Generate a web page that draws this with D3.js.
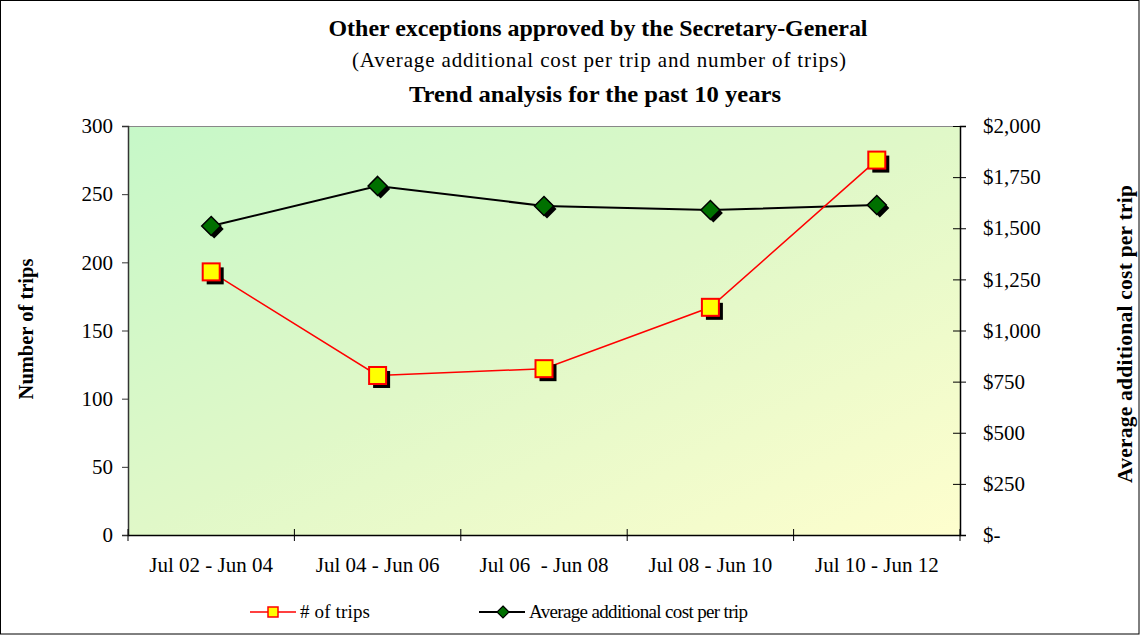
<!DOCTYPE html>
<html><head><meta charset="utf-8">
<script src="https://cdn.jsdelivr.net/npm/d3@7"></script>
<style>body{margin:0;background:#fff}svg{display:block}text{font-family:"Liberation Serif","Times New Roman",serif}</style>
</head><body><svg id="c" width="1140" height="635"></svg>
<script>
const categories = ["Jul 02 - Jun 04","Jul 04 - Jun 06","Jul 06  - Jun 08","Jul 08 - Jun 10","Jul 10 - Jun 12"];
const trips = [193, 117, 122, 167, 275];
const avgCost = [1511, 1707, 1609, 1589, 1614];
const leftTicks = [0,50,100,150,200,250,300];
const rightTicks = [0,250,500,750,1000,1250,1500,1750,2000];
const rightTickLabels = ["$-","$250","$500","$750","$1,000","$1,250","$1,500","$1,750","$2,000"];

const svg = d3.select("#c");
const W=1140,H=635;
const m={l:128,r:960,t:126,b:535};
svg.append("rect").attr("x",0.5).attr("y",0.5).attr("width",W-1.5).attr("height",H-1.5).attr("fill","#fff").attr("stroke","#000");

const defs=svg.append("defs");
const g=defs.append("linearGradient").attr("id","bg").attr("x1","0").attr("y1","0").attr("x2","1").attr("y2","1");
g.append("stop").attr("offset","0").attr("stop-color","#c6f8c8");
g.append("stop").attr("offset","0.5").attr("stop-color","#e0f8c8");
g.append("stop").attr("offset","1").attr("stop-color","#fefece");

const x=d3.scaleBand().domain(categories).range([m.l,m.r]);
const yL=d3.scaleLinear().domain([0,300]).range([m.b,m.t]);
const yR=d3.scaleLinear().domain([0,2000]).range([m.b,m.t]);

svg.append("rect").attr("x",m.l).attr("y",m.t).attr("width",m.r-m.l).attr("height",m.b-m.t).attr("fill","url(#bg)");
svg.append("line").attr("x1",m.l).attr("x2",m.r).attr("y1",m.t+0.5).attr("y2",m.t+0.5).attr("stroke","#888");

// axes
const la=svg.append("g").attr("transform",`translate(${m.l},0)`).call(d3.axisLeft(yL).tickValues(leftTicks).tickSize(6).tickPadding(9));
la.selectAll("text").attr("font-size",21).attr("fill","#000");
la.select(".domain").attr("stroke","#333").attr("stroke-width",1.5);
la.selectAll(".tick line").attr("stroke","#333").attr("x2",-6).attr("x1",1);

const ra=svg.append("g").attr("transform",`translate(${m.r},0)`).call(d3.axisRight(yR).tickValues(rightTicks).tickFormat((d,i)=>rightTickLabels[i]).tickSize(6).tickPadding(17));
ra.selectAll("text").attr("font-size",21).attr("fill","#000");
ra.select(".domain").attr("stroke","#000").attr("stroke-width",1.5);
ra.selectAll(".tick line").attr("stroke","#000").attr("x1",-7).attr("x2",6);

const xa=svg.append("g").attr("transform",`translate(0,${m.b})`).call(d3.axisBottom(x).tickSize(0).tickPadding(22));
xa.selectAll("text").attr("font-size",21).attr("fill","#000").style("white-space","pre");
xa.select(".domain").attr("stroke","#000").attr("stroke-width",1.5);
const bounds=categories.map(c=>x(c)).concat([m.r]);
svg.append("g").selectAll("line").data(bounds).join("line")
 .attr("x1",d=>d).attr("x2",d=>d).attr("y1",m.b-6).attr("y2",m.b+6).attr("stroke","#000");

const cx=c=>x(c)+x.bandwidth()/2;
svg.append("path").datum(avgCost).attr("fill","none").attr("stroke","#000").attr("stroke-width",2)
 .attr("d",d3.line().x((d,i)=>cx(categories[i])).y(d=>yR(d)));
svg.append("path").datum(trips).attr("fill","none").attr("stroke","#ff0000").attr("stroke-width",1.5)
 .attr("d",d3.line().x((d,i)=>cx(categories[i])).y(d=>yL(d)));

const dm=svg.append("g");
avgCost.forEach((v,i)=>{
  const px=cx(categories[i]),py=yR(v),s=9.5;
  const dp=(ox,oy)=>`M${px+ox},${py+oy-s}L${px+ox+s},${py+oy}L${px+ox},${py+oy+s}L${px+ox-s},${py+oy}Z`;
  dm.append("path").attr("d",dp(3,3)).attr("fill","#000");
  dm.append("path").attr("d",dp(0,0)).attr("fill","#007000").attr("stroke","#000").attr("stroke-width",1.5);
});
const sq=svg.append("g");
trips.forEach((v,i)=>{
  const px=cx(categories[i]),py=yL(v),s=8.5;
  sq.append("rect").attr("x",px-s+4).attr("y",py-s+4).attr("width",2*s).attr("height",2*s).attr("fill","#000");
  sq.append("rect").attr("x",px-s).attr("y",py-s).attr("width",2*s).attr("height",2*s).attr("fill","#ffff00").attr("stroke","#ff0000").attr("stroke-width",2);
});

svg.append("text").attr("x",598).attr("y",36).attr("text-anchor","middle").attr("font-weight","bold").attr("font-size",24).attr("textLength",539).attr("lengthAdjust","spacingAndGlyphs").text("Other exceptions approved by the Secretary-General");
svg.append("text").attr("x",599).attr("y",67).attr("text-anchor","middle").attr("font-size",21).attr("textLength",494).text("(Average additional cost per trip and number of trips)");
svg.append("text").attr("x",595).attr("y",102).attr("text-anchor","middle").attr("font-weight","bold").attr("font-size",23).attr("textLength",372).attr("lengthAdjust","spacingAndGlyphs").text("Trend analysis for the past 10 years");

svg.append("text").attr("transform","translate(33,329) rotate(-90)").attr("text-anchor","middle").attr("font-weight","bold").attr("font-size",20.5).text("Number of trips");
svg.append("text").attr("transform","translate(1132,334) rotate(-90)").attr("text-anchor","middle").attr("font-weight","bold").attr("font-size",21.5).attr("textLength",298).text("Average additional cost per trip");

const ly=612;
svg.append("line").attr("x1",250).attr("x2",296).attr("y1",ly).attr("y2",ly).attr("stroke","#ff0000").attr("stroke-width",1.5);
svg.append("rect").attr("x",268).attr("y",ly-5).attr("width",10).attr("height",10).attr("fill","#ffff00").attr("stroke","#ff0000").attr("stroke-width",1.5);
svg.append("text").attr("x",300).attr("y",ly+6).attr("font-size",19).attr("textLength",70).text("# of trips");
svg.append("line").attr("x1",479).attr("x2",525).attr("y1",ly).attr("y2",ly).attr("stroke","#000").attr("stroke-width",2);
svg.append("path").attr("d",`M503,${ly-6}L509,${ly}L503,${ly+6}L497,${ly}Z`).attr("fill","#007000").attr("stroke","#000").attr("stroke-width",1.2);
svg.append("text").attr("x",529).attr("y",ly+6).attr("font-size",19).attr("textLength",219).text("Average additional cost per trip");
</script></body></html>
